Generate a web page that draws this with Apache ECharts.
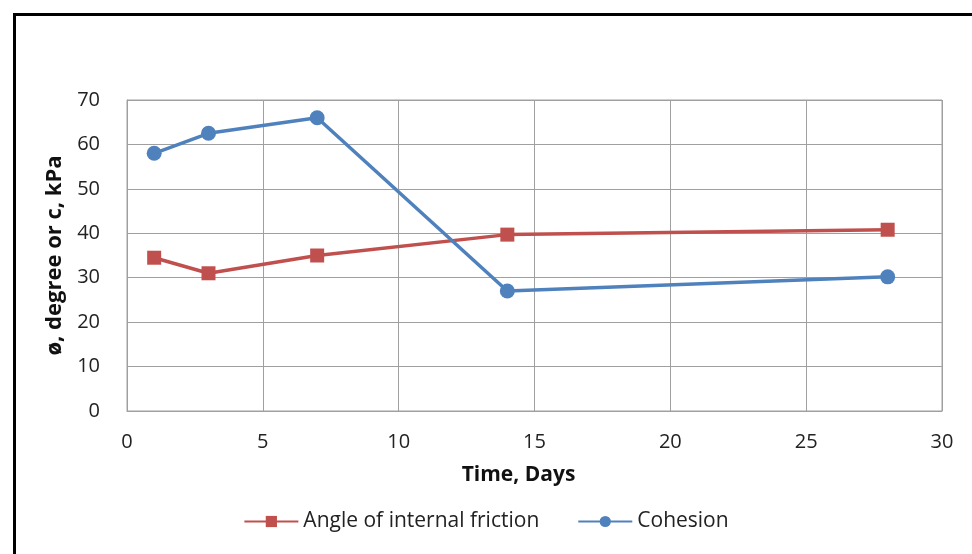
<!DOCTYPE html>
<html><head><meta charset="utf-8">
<script src="https://cdn.jsdelivr.net/npm/echarts@6/dist/echarts.min.js"></script>
<style>html,body{margin:0;padding:0;background:#fff}#c{width:972px;height:554px}</style>
</head><body><div id="c"></div>
<script>
const days = [1, 3, 7, 14, 28];
const friction = [34.5, 31, 35, 39.7, 40.8];
const cohesion = [58, 62.5, 66, 27, 30.2];
const seriesNames = ['Angle of internal friction', 'Cohesion'];
const xTitle = 'Time, Days';
const yTitle = 'ø, degree or c, kPa';

const FONT = '"Open Sans", "Liberation Sans", sans-serif';
const chart = echarts.init(document.getElementById('c'));
chart.setOption({
  animation: false,
  backgroundColor: '#fff',
  graphic: [{
    type: 'rect', left: 12, top: 12, silent: true,
    shape: { width: 1000, height: 600 },
    style: { fill: 'none', stroke: '#000', lineWidth: 3 }
  }],
  grid: { left: 127, right: 30, top: 100, bottom: 143, containLabel: false, show: true, borderColor: '#a0a0a0', borderWidth: 1 },
  legend: {
    bottom: 17, left: 'center', itemWidth: 54, itemHeight: 14, itemGap: 38,
    textStyle: { fontFamily: FONT, fontSize: 21, color: '#222' },
    data: seriesNames
  },
  xAxis: {
    type: 'value', min: 0, max: 30, interval: 5,
    name: xTitle, nameLocation: 'middle', nameGap: 54,
    nameTextStyle: { fontFamily: FONT, fontSize: 21, fontWeight: 'bold', color: '#111', padding: [0, 32, 0, 0] },
    axisLine: { show: true, lineStyle: { color: '#a0a0a0' } },
    axisTick: { show: false },
    axisLabel: { fontFamily: FONT, fontSize: 20, color: '#222', margin: 21 },
    splitLine: { show: true, lineStyle: { color: '#a0a0a0' } }
  },
  yAxis: {
    type: 'value', min: 0, max: 70, interval: 10,
    name: yTitle, nameLocation: 'middle', nameGap: 60,
    nameTextStyle: { fontFamily: FONT, fontSize: 22, fontWeight: 'bold', color: '#111' },
    axisLine: { show: true, lineStyle: { color: '#a0a0a0' } },
    axisTick: { show: false },
    axisLabel: { fontFamily: FONT, fontSize: 20, color: '#222', margin: 27 },
    splitLine: { show: true, lineStyle: { color: '#a0a0a0' } }
  },
  series: [{
    name: seriesNames[0], type: 'line',
    data: days.map((d, i) => [d, friction[i]]),
    symbol: 'rect', symbolSize: 14,
    lineStyle: { color: '#C0504D', width: 3.5 },
    itemStyle: { color: '#C0504D' }
  }, {
    name: seriesNames[1], type: 'line',
    data: days.map((d, i) => [d, cohesion[i]]),
    symbol: 'circle', symbolSize: 15,
    lineStyle: { color: '#4F81BD', width: 3.5 },
    itemStyle: { color: '#4F81BD' }
  }]
});
</script></body></html>
